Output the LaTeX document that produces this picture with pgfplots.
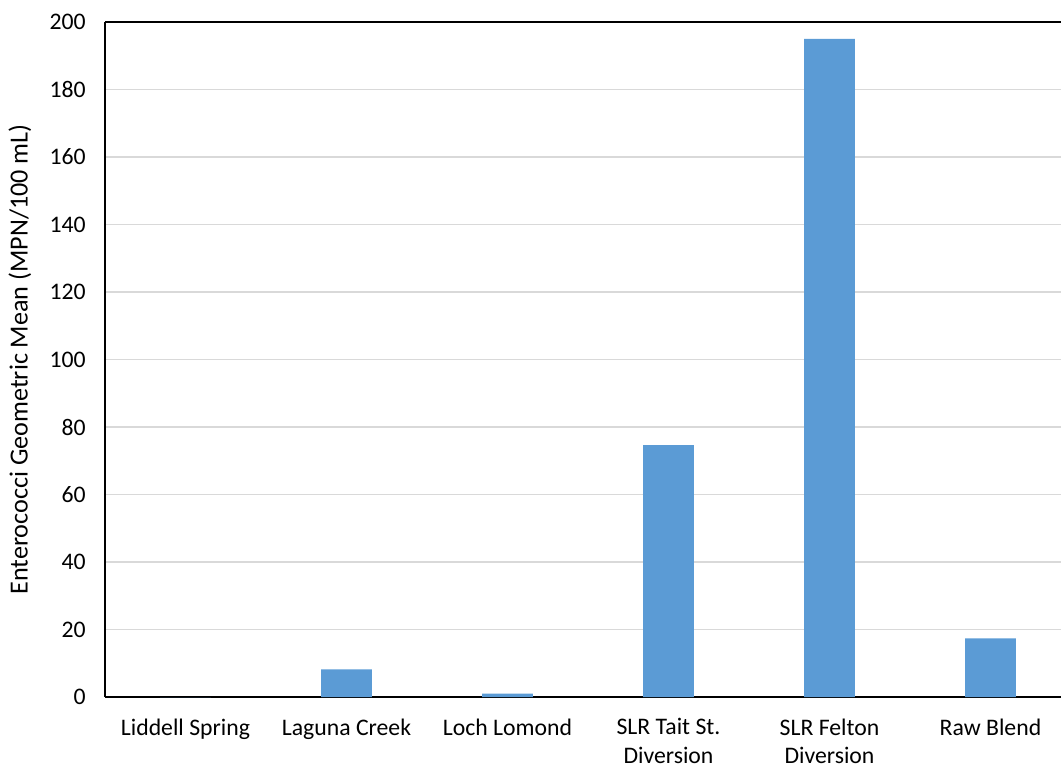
\documentclass[border=0pt]{standalone}
\usepackage{pgfplots}
\pgfplotsset{compat=1.18}
\usepackage{fontspec}
\setmainfont{Carlito}
\definecolor{barblue}{HTML}{5B9BD5}
\definecolor{gridgray}{HTML}{D9D9D9}
\begin{document}
\begin{tikzpicture}
\begin{axis}[
  name=ax,
  scale only axis,
  width=717pt, height=506.25pt,
  xmin=-0.5, xmax=5.438,
  ymin=0, ymax=200,
  ytick={0,20,...,200},
  xtick={0,1,2,3,4,5},
  xticklabels={Liddell Spring, Laguna Creek, Loch Lomond, {SLR Tait St.\\Diversion}, {SLR Felton\\Diversion}, Raw Blend},
  axis x line*=box,
  axis y line*=left,
  axis line style={black, line width=1.5pt},
  every outer x axis line/.append style={-},
  every outer y axis line/.append style={-},
  ymajorgrids,
  grid style={gridgray, line width=1.3pt},
  major tick length=0pt,
  /pgf/number format/assume math mode=true,
  tick label style={font=\fontsize{17.8}{21.5}\selectfont, black},
  yticklabel style={anchor=east, xshift=-11pt},
  xticklabel style={align=center, anchor=north, yshift=-15pt, inner ysep=1pt},
  ylabel={Enterococci Geometric Mean (MPN/100 mL)},
  every axis y label/.style={at={(axis description cs:0,0.5)}, xshift=-63.75pt, rotate=90, anchor=center, font=\fontsize{19.6}{21}\selectfont},
]
\addplot[ybar, bar width=0.315, fill=barblue, draw=none] coordinates {
  (0,0) (1,8.2) (2,1.0) (3,74.6) (4,195) (5,17.4)
};
\end{axis}
\pgfresetboundingbox
\path[use as bounding box] (ax.south west) ++(-78.75pt,-53.25pt) rectangle ++(795.75pt,576pt);
\end{tikzpicture}
\end{document}
